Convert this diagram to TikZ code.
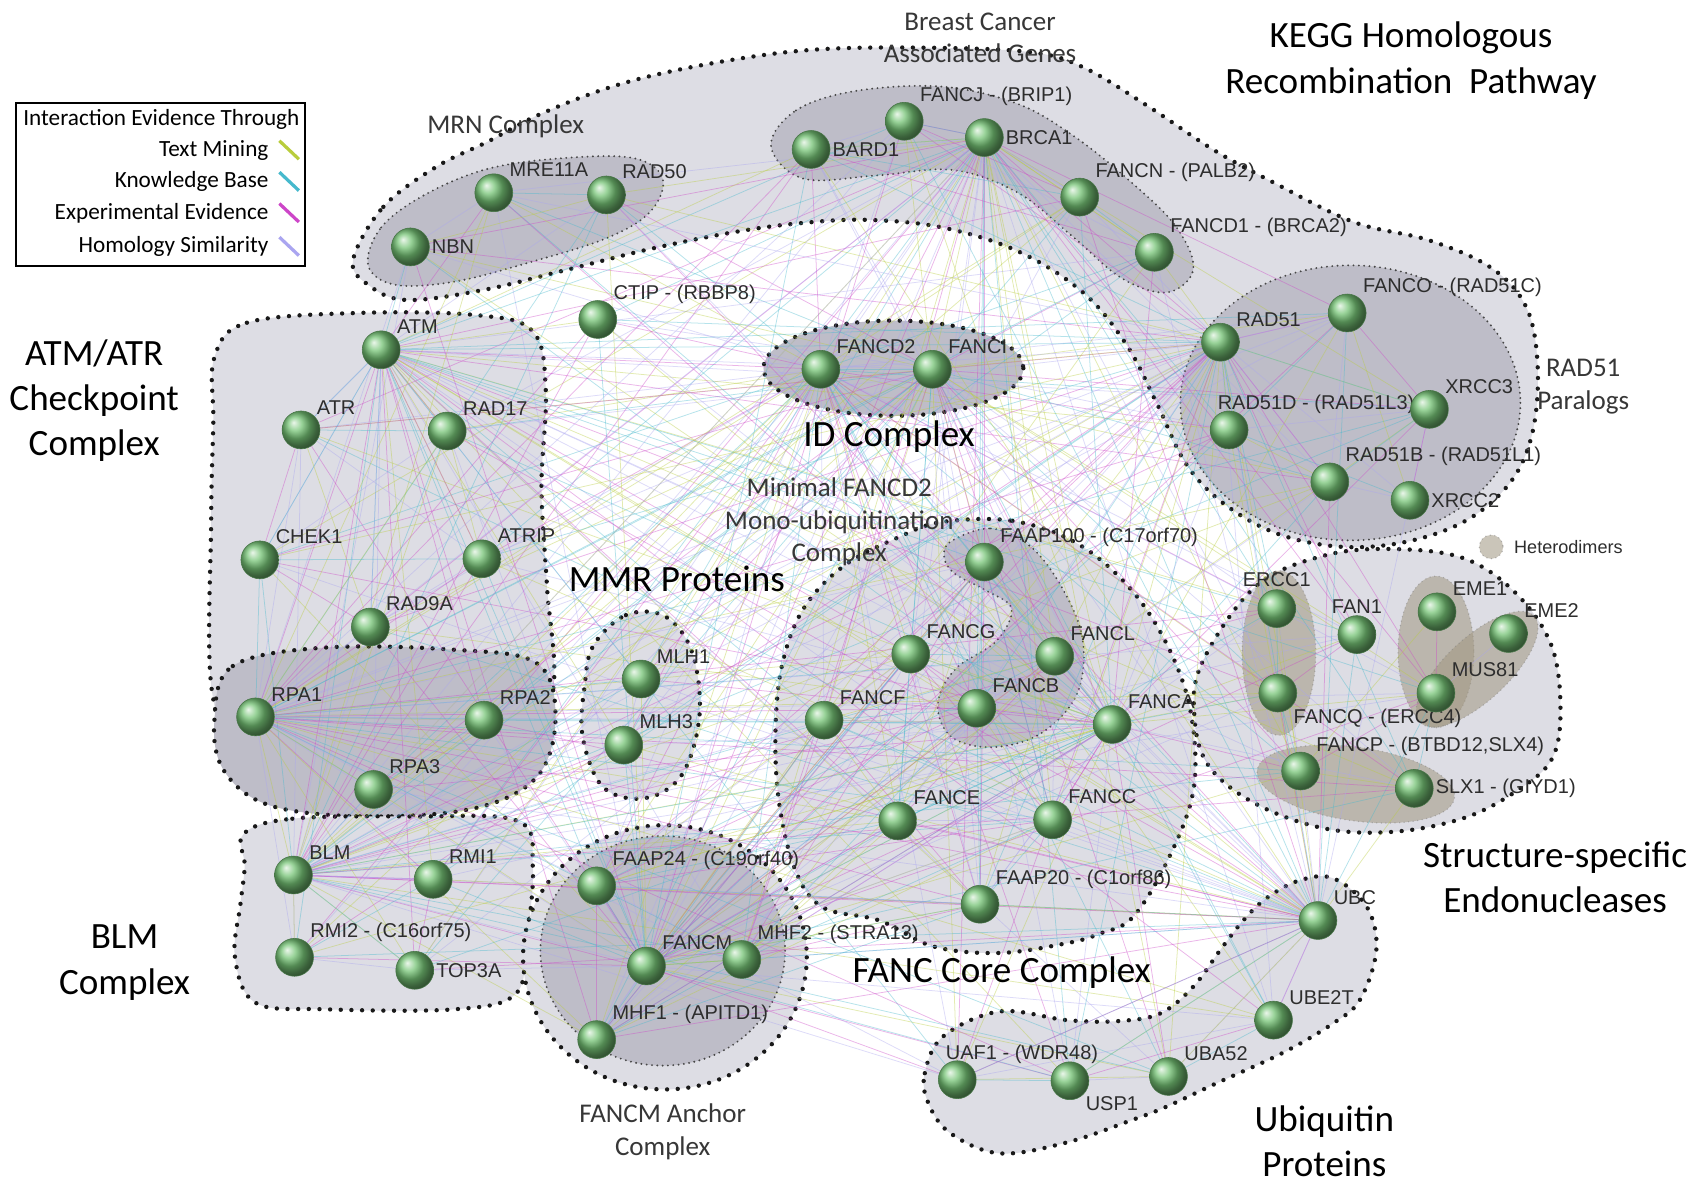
\documentclass[tikz,border=0pt]{standalone}
\usepackage{fontspec}
\setmainfont{Carlito}
\setsansfont{Liberation Sans}
\definecolor{protgreen}{RGB}{118,196,118}
\definecolor{blobLight}{RGB}{221,221,228}
\definecolor{blobDark}{RGB}{190,189,200}
\definecolor{dotcol}{RGB}{25,25,25}
\definecolor{hetcol}{RGB}{160,150,128}
\definecolor{lbltext}{RGB}{45,45,45}
\definecolor{grptext}{RGB}{55,55,55}
\definecolor{edgecol0}{RGB}{185,205,60}
\definecolor{edgecol1}{RGB}{70,185,205}
\definecolor{edgecol2}{RGB}{205,70,200}
\definecolor{edgecol3}{RGB}{170,165,240}
\usetikzlibrary{positioning}
\pgfdeclarelayer{background}
\pgfdeclarelayer{edgelayer}
\pgfsetlayers{background,edgelayer,main}
\newcommand{\netclique}[1]{%
  \foreach \a [count=\i] in {#1}{%
    \foreach \b [count=\j] in {#1}{%
      \ifnum\i<\j
        \pgfmathtruncatemacro{\k}{mod(\i+\j,4)}%
        \draw[netedge, draw=edgecol\k] (\a) -- (\b);%
      \fi}}}

\begin{document}
\begin{tikzpicture}[x=0.02cm, y=-0.02cm,
    prot/.style={circle, inner sep=0pt, minimum size=0.7cm, ball color=protgreen,
                 draw=protgreen!60!black, line width=0.3pt},
    lbl/.style={font=\sffamily\fontsize{10.5}{12}\selectfont, text=lbltext, inner sep=1pt},
    grpbig/.style={font=\fontsize{19.5}{23.8}\selectfont, align=center, text=black},
    grpmid/.style={font=\fontsize{14.2}{17}\selectfont, align=center, text=grptext},
    hetlbl/.style={font=\sffamily\fontsize{9.5}{11}\selectfont, text=lbltext},
    legtext/.style={font=\fontsize{12.2}{14}\selectfont, text=black, inner sep=1pt},
    legmark/.style={line width=1.7pt},
    netedge/.style={line width=0.4pt, draw opacity=0.4},
    lightblob/.style={fill=blobLight, draw=dotcol, line width=2.3pt, line cap=round,
                      dash pattern=on 0pt off 5.6pt},
    darkbold/.style={fill=blobDark, draw=dotcol, line width=2.3pt, line cap=round,
                     dash pattern=on 0pt off 5.6pt},
    darkblob/.style={fill=blobDark, draw=gray!55!black, line width=1.1pt, line cap=round,
                     dash pattern=on 0pt off 2.8pt},
    hetblob/.style={fill=hetcol, fill opacity=0.55, draw=gray, draw opacity=0.5,
                    line width=0.8pt, line cap=round, dash pattern=on 0pt off 2.4pt}
  ]
  \useasboundingbox (0,0) rectangle (1568,1093);

  \begin{pgfonlayer}{background}
    \fill[white] (0,0) rectangle (1568,1093);
    % KEGG homologous recombination pathway
    \path[lightblob] plot[smooth cycle, tension=0.6] coordinates {(326,240) (354,191) (403,154)
      (450,131) (502,104) (575,77) (660,58) (750,46) (850,44) (950,48) (1000,62) (1060,98)
      (1120,138) (1175,168) (1250,205) (1320,222) (1378,248) (1410,285) (1420,340) (1415,400)
      (1395,445) (1355,480) (1300,500) (1240,505) (1180,493) (1130,465) (1095,428) (1068,372)
      (1040,318) (1000,270) (940,232) (870,210) (800,203) (740,206) (680,214) (600,230)
      (520,250) (445,268) (375,277) (340,263)};
    \path[darkblob] plot[smooth cycle, tension=0.6] coordinates {(340,245) (352,210) (392,180)
      (450,156) (520,146) (585,146) (612,165) (600,196) (560,220) (490,242) (420,260) (365,263)};
    \path[darkblob] plot[smooth cycle, tension=0.6] coordinates {(712,135) (735,102) (790,84)
      (870,80) (940,96) (992,126) (1042,166) (1085,208) (1102,248) (1078,270) (1036,257)
      (990,218) (940,178) (880,157) (810,162) (742,165)};
    \path[darkblob] (1247,372) ellipse [x radius=157, y radius=127];
    % ID complex
    \path[darkbold] (825,340) ellipse [x radius=120, y radius=44];
    % ATM/ATR, RPA, BLM
    \path[lightblob] plot[smooth cycle, tension=0.6] coordinates {(198,330) (228,298) (330,289)
      (440,291) (492,306) (504,360) (500,450) (505,540) (510,640) (470,690) (350,700)
      (230,690) (196,640) (195,480) (197,390)};
    \path[darkbold] plot[smooth cycle, tension=0.6] coordinates {(198,665) (215,615) (300,598)
      (420,600) (495,612) (513,660) (497,716) (440,746) (340,754) (250,744) (207,712)};
    \path[lightblob] plot[smooth cycle, tension=0.6] coordinates {(225,770) (270,756) (380,754)
      (478,758) (492,800) (486,870) (476,918) (420,932) (300,932) (236,926) (217,884)
      (222,835) (226,800)};
    % MMR
    \path[lightblob] plot[smooth cycle, tension=0.6] coordinates {(548,596) (578,568) (614,569)
      (639,602) (646,660) (630,715) (596,737) (557,727) (538,680) (540,632)};
    % FANC core
    \path[lightblob] plot[smooth cycle, tension=0.6] coordinates {(870,482) (935,481) (995,502)
      (1045,545) (1080,600) (1100,660) (1102,730) (1078,795) (1046,847) (1016,862) (985,871)
      (923,880) (862,874) (812,850) (760,838) (735,805) (720,745) (716,680) (722,615)
      (742,562) (780,522) (830,496)};
    \path[darkblob] plot[smooth cycle, tension=0.6] coordinates {(878,500) (915,488) (952,505)
      (982,545) (1000,592) (994,642) (960,678) (915,690) (878,680) (866,650) (882,618)
      (920,592) (934,562) (910,545) (882,530) (872,515)};
    % FANCM anchor
    \path[lightblob] (614,884) ellipse [x radius=131, y radius=122];
    \path[darkblob] (612,878) ellipse [x radius=113, y radius=106];
    % structure-specific endonucleases
    \path[lightblob] plot[smooth cycle, tension=0.6] coordinates {(1103,662) (1110,612)
      (1159,542) (1223,513) (1288,507) (1353,516) (1401,549) (1433,597) (1441,656) (1433,701)
      (1401,730) (1353,755) (1288,768) (1223,765) (1159,742) (1116,707)};
    \path[hetblob] (1181,603) ellipse [x radius=34, y radius=76];
    \path[hetblob] (1326,602) ellipse [x radius=35, y radius=70];
    \path[hetblob, rotate around={43:(1364,618)}] (1364,618) ellipse [x radius=72, y radius=29];
    \path[hetblob, rotate around={-8:(1252,724)}] (1252,724) ellipse [x radius=92, y radius=34];
    \path[hetblob] (1377,505) circle [radius=11];
    % ubiquitin
    \path[lightblob] plot[smooth cycle, tension=0.6] coordinates {(857,1018) (854,991) (871,957)
      (923,934) (985,942) (1031,943) (1071,936) (1102,911) (1127,877) (1148,850) (1170,829)
      (1200,813) (1231,811) (1262,837) (1271,877) (1256,923) (1231,945) (1185,972)
      (1124,1000) (1077,1022) (1046,1034) (985,1055) (923,1065) (877,1046)};
  \end{pgfonlayer}

  % MRN complex
  \node[prot, label={[lbl]right:NBN}] (nbn) at (379,228) {};
  \node[prot, label={[lbl]above right:MRE11A}] (mre11a) at (456,178) {};
  \node[prot, label={[lbl]above right:RAD50}] (rad50) at (560,180) {};
  % breast cancer associated
  \node[prot, label={[lbl]right:BARD1}] (bard1) at (749,138) {};
  \node[prot, label={[lbl]above right:FANCJ - (BRIP1)}] (fancj) at (835,112) {};
  \node[prot, label={[lbl]right:BRCA1}] (brca1) at (909,127) {};
  \node[prot, label={[lbl]above right:FANCN - (PALB2)}] (fancn) at (997,182) {};
  \node[prot, label={[lbl]above right:FANCD1 - (BRCA2)}] (fancd1) at (1066,233) {};
  \node[prot, label={[lbl]above right:CTIP - (RBBP8)}] (ctip) at (552,295) {};
  % ATM/ATR checkpoint
  \node[prot, label={[lbl]above right:ATM}] (atm) at (352,323) {};
  \node[prot, label={[lbl]above right:ATR}] (atr) at (278,397) {};
  \node[prot, label={[lbl]above right:RAD17}] (rad17) at (413,398) {};
  \node[prot, label={[lbl]above right:CHEK1}] (chek1) at (240,517) {};
  \node[prot, label={[lbl]above right:ATRIP}] (atrip) at (445,516) {};
  \node[prot, label={[lbl]above right:RAD9A}] (rad9a) at (342,579) {};
  \node[prot, label={[lbl]above right:RPA1}] (rpa1) at (236,662) {};
  \node[prot, label={[lbl]above right:RPA2}] (rpa2) at (447,665) {};
  \node[prot, label={[lbl]above right:RPA3}] (rpa3) at (345,729) {};
  % BLM
  \node[prot, label={[lbl]above right:BLM}] (blm) at (271,808) {};
  \node[prot, label={[lbl]above right:RMI1}] (rmi1) at (400,812) {};
  \node[prot, label={[lbl]above right:RMI2 - (C16orf75)}] (rmi2) at (272,884) {};
  \node[prot, label={[lbl]right:TOP3A}] (top3a) at (383,896) {};
  % ID
  \node[prot, label={[lbl]above right:FANCD2}] (fancd2) at (758,341) {};
  \node[prot, label={[lbl]above right:FANCI}] (fanci) at (861,341) {};
  % RAD51 paralogs
  \node[prot, label={[lbl]above right:RAD51}] (rad51) at (1127,316) {};
  \node[prot, label={[lbl]above right:FANCO - (RAD51C)}] (fanco) at (1244,289) {};
  \node[prot, label={[lbl,anchor=south west]135:RAD51D - (RAD51L3)}] (rad51d) at (1135,397) {};
  \node[prot, label={[lbl]above right:XRCC3}] (xrcc3) at (1320,378) {};
  \node[prot, label={[lbl]above right:RAD51B - (RAD51L1)}] (rad51b) at (1228,445) {};
  \node[prot, label={[lbl]right:XRCC2}] (xrcc2) at (1302,462) {};
  % MMR
  \node[prot, label={[lbl]above right:MLH1}] (mlh1) at (592,627) {};
  \node[prot, label={[lbl]above right:MLH3}] (mlh3) at (576,688) {};
  % FANC core
  \node[prot, label={[lbl]above right:FAAP100 - (C17orf70)}] (faap100) at (909,519) {};
  \node[prot, label={[lbl]above right:FANCG}] (fancg) at (841,604) {};
  \node[prot, label={[lbl]above right:FANCL}] (fancl) at (974,606) {};
  \node[prot, label={[lbl]above right:FANCB}] (fancb) at (902,654) {};
  \node[prot, label={[lbl]above right:FANCF}] (fancf) at (761,665) {};
  \node[prot, label={[lbl]above right:FANCA}] (fanca) at (1027,669) {};
  \node[prot, label={[lbl]above right:FANCE}] (fance) at (829,758) {};
  \node[prot, label={[lbl]above right:FANCC}] (fancc) at (972,757) {};
  \node[prot, label={[lbl]above right:FAAP20 - (C1orf86)}] (faap20) at (905,835) {};
  % FANCM anchor
  \node[prot, label={[lbl]above right:FAAP24 - (C19orf40)}] (faap24) at (551,818) {};
  \node[prot, label={[lbl]above right:FANCM}] (fancm) at (597,892) {};
  \node[prot, label={[lbl]above right:MHF2 - (STRA13)}] (mhf2) at (685,886) {};
  \node[prot, label={[lbl]above right:MHF1 - (APITD1)}] (mhf1) at (551,960) {};
  % endonucleases
  \node[prot, label={[lbl]above:ERCC1}] (ercc1) at (1179,562) {};
  \node[prot, label={[lbl]above:FAN1}] (fan1) at (1253,586) {};
  \node[prot, label={[lbl]above right:EME1}] (eme1) at (1327,565) {};
  \node[prot, label={[lbl]above right:EME2}] (eme2) at (1393,585) {};
  \node[prot, label={[lbl]below right:FANCQ - (ERCC4)}] (fancq) at (1180,640) {};
  \node[prot, label={[lbl]above right:MUS81}] (mus81) at (1326,640) {};
  \node[prot, label={[lbl]above right:FANCP - (BTBD12,SLX4)}] (fancp) at (1201,712) {};
  \node[prot, label={[lbl]right:SLX1 - (GIYD1)}] (slx1) at (1306,728) {};
  % ubiquitin
  \node[prot, label={[lbl]above right:UBC}] (ubc) at (1217,850) {};
  \node[prot, label={[lbl]above right:UBE2T}] (ube2t) at (1176,942) {};
  \node[prot, label={[lbl]above right:UBA52}] (uba52) at (1079,994) {};
  \node[prot, label={[lbl,anchor=south west]135:UAF1 - (WDR48)}] (uaf1) at (884,997) {};
  \node[prot, label={[lbl]below right:USP1}] (usp1) at (988,998) {};

  % interactions
  \begin{pgfonlayer}{edgelayer}
    \foreach \h [count=\i] in {brca1,fancd2,fanci,atm,rad51,blm,fanca,ubc,fancm,rpa1}{
      \foreach \t [count=\j] in {nbn,mre11a,rad50,bard1,fancj,fancn,fancd1,ctip,atr,rad17,
          chek1,atrip,rad9a,rpa2,rpa3,rmi1,rmi2,top3a,mlh1,mlh3,faap100,fancg,fancl,fancb,
          fancf,fance,fancc,faap20,faap24,mhf1,mhf2,ercc1,fan1,fancq,fancp,slx1,mus81,
          ube2t,uba52,usp1,uaf1,rad51b,xrcc3,rad51d,fanco}{
        \pgfmathtruncatemacro{\k}{mod(\i+\j,4)}
        \draw[netedge, draw=edgecol\k] (\h) -- (\t);
      }
    }
    \netclique{brca1,fancd2,fanci,atm,rad51,blm,fanca,ubc,fancm,rpa1}
    \netclique{nbn,mre11a,rad50}
    \netclique{bard1,fancj,brca1,fancn,fancd1}
    \netclique{atm,atr,rad17,chek1,atrip,rad9a}
    \netclique{rpa1,rpa2,rpa3}
    \netclique{blm,rmi1,rmi2,top3a}
    \netclique{rad51,fanco,rad51d,xrcc3,rad51b,xrcc2}
    \netclique{faap100,fancg,fancl,fancb,fancf,fanca,fance,fancc,faap20,faap24,fancm,mhf1,mhf2}
    \netclique{ubc,ube2t,uba52,usp1,uaf1}
    \netclique{mlh1,mlh3}
    \foreach \a/\b [count=\i] in {ercc1/fancq,eme1/mus81,eme2/mus81,fancp/slx1,fancp/fancq,
        fancp/mus81,ercc1/fancp,fancp/eme1,slx1/mus81,fan1/fancq}{
      \pgfmathtruncatemacro{\k}{mod(\i,4)}
      \draw[netedge, draw=edgecol\k] (\a) -- (\b);
    }
  \end{pgfonlayer}

  % group labels
  \node[grpmid] (brcalbl) at (905,35) {Breast Cancer\\Associated Genes};
  \node[grpbig] (kegglbl) at (1303,56) {KEGG Homologous\\Recombination\ \ Pathway};
  \node[grpmid] (mrnlbl) at (467,117) {MRN Complex};
  \node[grpbig] (atmlbl) at (87,370) {ATM/ATR\\Checkpoint\\Complex};
  \node[grpmid] (paraloglbl) at (1462,357) {RAD51\\Paralogs};
  \node[grpbig] (idlbl) at (821,403) {ID Complex};
  \node[grpmid] (minlbl) at (775,482) {Minimal FANCD2\\Mono-ubiquitination\\Complex};
  \node[grpbig] (mmrlbl) at (625,535) {MMR Proteins};
  \node[grpbig] (fanclbl) at (925,898) {FANC Core Complex};
  \node[grpbig] (blmlbl) at (115,889) {BLM\\Complex};
  \node[grpmid] (anchorlbl) at (612,1045) {FANCM Anchor\\Complex};
  \node[grpbig] (endolbl) at (1436,810) {Structure-specific\\Endonucleases};
  \node[grpbig] (ubqlbl) at (1223,1054) {Ubiquitin\\Proteins};
  \node[hetlbl, anchor=west] (hetlbl) at (1392,505) {Heterodimers};

  % legend
  \draw[line width=1.1pt, fill=white] (15,95) rectangle (282,246);
  \node[legtext] (legtitle) at (149,110) {Interaction Evidence Through};
  \node[legtext, anchor=east] (legtm) at (250,139) {Text Mining};
  \node[legtext, anchor=east] (legkb) at (250,168) {Knowledge Base};
  \node[legtext, anchor=east] (legex) at (250,197) {Experimental Evidence};
  \node[legtext, anchor=east] (legho) at (250,228) {Homology Similarity};
  \draw[legmark, edgecol0] (258,130) -- (276,147);
  \draw[legmark, edgecol1] (258,159) -- (276,176);
  \draw[legmark, edgecol2] (258,188) -- (276,205);
  \draw[legmark, edgecol3] (258,219) -- (276,236);
\end{tikzpicture}
\end{document}
